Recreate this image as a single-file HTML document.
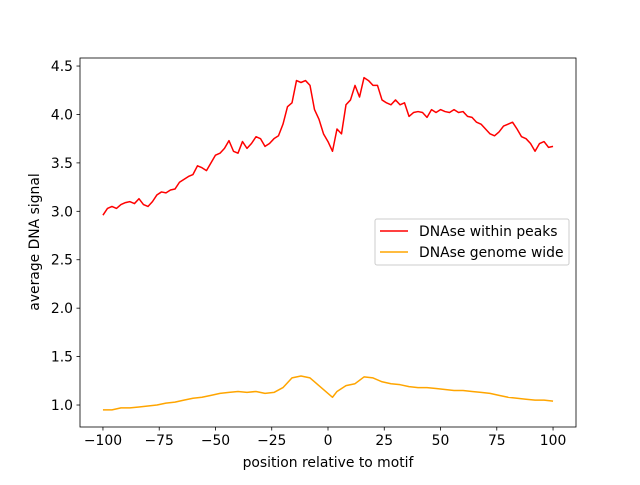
<!DOCTYPE html>
<html><head><meta charset="utf-8"><style>
body{margin:0;background:#fff}
svg text{font-family:"DejaVu Sans","Liberation Sans",sans-serif;font-size:13.9px;fill:#000}
</style></head><body>
<svg id="chart" width="640" height="480">
<rect x="0" y="0" width="640" height="480" fill="#fff"/>
<g id="plot"></g>
<rect x="80" y="58" width="496" height="369" fill="none" stroke="#000" stroke-width="0.8"/>
<g id="ticks"></g>
<text x="328" y="467" text-anchor="middle">position relative to motif</text>
<text transform="translate(39,242) rotate(-90)" text-anchor="middle">average DNA signal</text>
<g>
<rect x="375" y="219" width="194" height="46" rx="2" fill="#fff" fill-opacity="0.8" stroke="#ccc" stroke-width="1"/>
<line x1="380" y1="231" x2="408" y2="231" stroke="#ff0000" stroke-width="1.5"/>
<text x="419" y="236">DNAse within peaks</text>
<line x1="380" y1="252" x2="408" y2="252" stroke="#ffa500" stroke-width="1.5"/>
<text x="419" y="257">DNAse genome wide</text>
</g>
</svg>
<script>
const peaksX = [-100,-98,-96,-94,-92,-90,-88,-86,-84,-82,-80,-78,-76,-74,-72,-70,-68,-66,-64,-62,-60,-58,-56,-54,-52,-50,-48,-46,-44,-42,-40,-38,-36,-34,-32,-30,-28,-26,-24,-22,-20,-18,-16,-14,-12,-10,-8,-6,-4,-2,0,2,4,6,8,10,12,14,16,18,20,22,24,26,28,30,32,34,36,38,40,42,44,46,48,50,52,54,56,58,60,62,64,66,68,70,72,74,76,78,80,82,84,86,88,90,92,94,96,98,100];
const peaksY = [2.96,3.03,3.05,3.03,3.07,3.09,3.10,3.08,3.13,3.07,3.05,3.10,3.17,3.20,3.19,3.22,3.23,3.30,3.33,3.36,3.38,3.47,3.45,3.42,3.50,3.58,3.60,3.65,3.73,3.62,3.60,3.72,3.65,3.70,3.77,3.75,3.67,3.70,3.75,3.78,3.90,4.08,4.12,4.35,4.33,4.35,4.30,4.05,3.95,3.80,3.72,3.62,3.85,3.80,4.10,4.15,4.30,4.18,4.38,4.35,4.30,4.30,4.15,4.12,4.10,4.15,4.10,4.12,3.98,4.02,4.03,4.02,3.97,4.05,4.02,4.05,4.03,4.02,4.05,4.02,4.03,3.98,3.97,3.92,3.90,3.85,3.80,3.78,3.82,3.88,3.90,3.92,3.85,3.77,3.75,3.70,3.62,3.70,3.72,3.66,3.67];
const genomeX = [-100,-96,-92,-88,-84,-80,-76,-72,-68,-64,-60,-56,-52,-48,-44,-40,-36,-32,-28,-24,-20,-16,-12,-8,-4,0,2,4,8,12,16,20,24,28,32,36,40,44,48,52,56,60,64,68,72,76,80,84,88,92,96,100];
const genomeY = [0.95,0.95,0.97,0.97,0.98,0.99,1.00,1.02,1.03,1.05,1.07,1.08,1.10,1.12,1.13,1.14,1.13,1.14,1.12,1.13,1.18,1.28,1.30,1.28,1.20,1.12,1.08,1.14,1.20,1.22,1.29,1.28,1.24,1.22,1.21,1.19,1.18,1.18,1.17,1.16,1.15,1.15,1.14,1.13,1.12,1.10,1.08,1.07,1.06,1.05,1.05,1.04];
const xTicks = [-100,-75,-50,-25,0,25,50,75,100];
const yTicks = [1.0,1.5,2.0,2.5,3.0,3.5,4.0,4.5];
const yTickLabels = ["1.0","1.5","2.0","2.5","3.0","3.5","4.0","4.5"];

const X0=80,X1=576,Y0=427,Y1=58;
const xMin=-110.2,xMax=110.2,yMin=0.773,yMax=4.583;
function sx(v){return X0+(v-xMin)/(xMax-xMin)*(X1-X0);}
function sy(v){return Y0-(v-yMin)/(yMax-yMin)*(Y0-Y1);}
const NS="http://www.w3.org/2000/svg";
const plot=document.getElementById('plot'), ticks=document.getElementById('ticks');
function line(xs,ys,color,name){
  const p=document.createElementNS(NS,'polyline');
  p.setAttribute('points',xs.map((x,i)=>sx(x).toFixed(2)+','+sy(ys[i]).toFixed(2)).join(' '));
  p.setAttribute('fill','none');p.setAttribute('stroke',color);p.setAttribute('stroke-width','1.5');
  p.setAttribute('stroke-linejoin','round');
  
  
  plot.appendChild(p);
}
line(peaksX,peaksY,'#ff0000','series-dnase-within-peaks');
line(genomeX,genomeY,'#ffa500','series-dnase-genome-wide');
xTicks.forEach(t=>{
  const l=document.createElementNS(NS,'line');
  l.setAttribute('x1',sx(t));l.setAttribute('x2',sx(t));l.setAttribute('y1',Y0);l.setAttribute('y2',Y0+3.5);
  l.setAttribute('stroke','#000');l.setAttribute('stroke-width','0.8');
  
  
  ticks.appendChild(l);
  const tx=document.createElementNS(NS,'text');
  tx.setAttribute('x',sx(t));tx.setAttribute('y',Y0+18);tx.setAttribute('text-anchor','middle');
  tx.textContent=(t<0?'\u2212'+(-t):String(t));
  
  
  ticks.appendChild(tx);
});
yTicks.forEach((t,i)=>{
  const l=document.createElementNS(NS,'line');
  l.setAttribute('x1',X0-3.5);l.setAttribute('x2',X0);l.setAttribute('y1',sy(t));l.setAttribute('y2',sy(t));
  l.setAttribute('stroke','#000');l.setAttribute('stroke-width','0.8');
  
  
  ticks.appendChild(l);
  const tx=document.createElementNS(NS,'text');
  tx.setAttribute('x',X0-7);tx.setAttribute('y',sy(t)+5);tx.setAttribute('text-anchor','end');
  tx.textContent=yTickLabels[i];
  
  
  ticks.appendChild(tx);
});
</script>
</body></html>
